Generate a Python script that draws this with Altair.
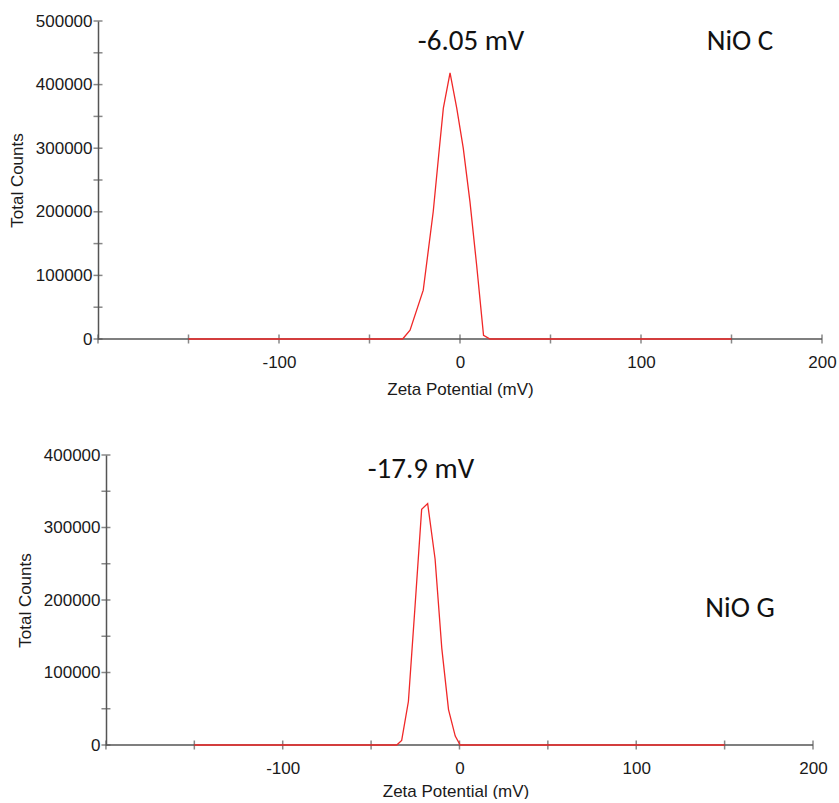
import altair as alt
import pandas as pd

# ---- data ----
c_x = [-150, -31.7, -27.6, -20.3, -14.8, -11.4, -9.2, -5.5, -1.8, 1.8, 5.5, 9.2, 13.0, 16.6, 150]
c_y = [0, 0, 13700, 76800, 200000, 300000, 363000, 418500, 363000, 300000, 216000, 116000, 5800, 0, 0]

g_x = [-150, -35.5, -32.7, -28.9, -25.1, -21.4, -18.0, -13.8, -10.0, -6.2, -2.4, 0.4, 150]
g_y = [0, 0, 6400, 60000, 192700, 325000, 333000, 256600, 133300, 48900, 12300, 0, 0]

c_ann_text = ["-6.05 mV", "NiO C"]
c_ann_x = [6.1, 154.7]
c_ann_y = [468500, 468500]

g_ann_text = ["-17.9 mV", "NiO G"]
g_ann_x = [-21.8, 158.7]
g_ann_y = [381000, 189000]

x_ticks = [-200, -150, -100, -50, 0, 50, 100, 150, 200]
c_y_ticks = [0, 50000, 100000, 150000, 200000, 250000, 300000, 350000, 400000, 450000, 500000]
g_y_ticks = [0, 50000, 100000, 150000, 200000, 250000, 300000, 350000, 400000]
x_span = [-200, 200]

AX_FONT = "Liberation Sans, Arial"
ANN_FONT = "Carlito, Open Sans, Noto Sans"
AX_COLOR = "#555555"
LINE_COLOR = "#f02828"

label_expr_x = "(datum.value % 100 == 0 && datum.value > -200) ? ('' + datum.value) : ''"
label_expr_y = "(datum.value % 100000 == 0) ? ('' + datum.value) : ''"


def panel(xs, ys, ann_text, ann_x, ann_y, y_ticks, y_max, width, height, x_min, y_offset, t_pad):
    df = pd.DataFrame({"x": xs, "y": ys})
    ann = pd.DataFrame({"t": ann_text, "x": ann_x, "y": ann_y})
    rule_df = pd.DataFrame({"x": [x_span[0]], "x2": [x_span[1]], "y": [0]})
    xt_df = pd.DataFrame({"x": x_ticks, "y": [0] * len(x_ticks)})
    yt_df = pd.DataFrame({"x": [x_span[0]] * len(y_ticks), "y": y_ticks})

    xscale = alt.Scale(domain=[x_min, 200], nice=False, zero=False)
    yscale = alt.Scale(domain=[0, y_max], nice=False)

    x_axis = alt.Axis(
        values=x_ticks, labelExpr=label_expr_x, title="Zeta Potential (mV)",
        grid=False, domain=False, ticks=False,
        labelFont=AX_FONT, labelFontSize=17, labelColor="#1a1a1a", labelPadding=15,
        titleFont=AX_FONT, titleFontSize=17, titleFontWeight="normal", titleColor="#1a1a1a",
        titlePadding=t_pad, labelFlush=False,
    )
    y_axis = alt.Axis(
        values=y_ticks, labelExpr=label_expr_y, title="Total Counts",
        grid=False, domainColor=AX_COLOR, domainWidth=1.5, ticks=False, offset=y_offset,
        labelFont=AX_FONT, labelFontSize=17, labelColor="#1a1a1a", labelPadding=6,
        titleFont=AX_FONT, titleFontSize=17, titleFontWeight="normal", titleColor="#1a1a1a",
        titlePadding=9, labelFlush=False,
    )

    base_rule = alt.Chart(rule_df).mark_rule(color=AX_COLOR, strokeWidth=1.5).encode(
        x=alt.X("x:Q", scale=xscale, axis=x_axis),
        x2="x2:Q",
        y=alt.Y("y:Q", scale=yscale, axis=y_axis),
    )
    xt = alt.Chart(xt_df).mark_tick(orient="vertical", size=9, thickness=1.5, color=AX_COLOR).encode(
        x=alt.X("x:Q", scale=xscale),
        y=alt.Y("y:Q", scale=yscale),
    )
    yt = alt.Chart(yt_df).mark_tick(orient="horizontal", size=9, thickness=1.5, color=AX_COLOR).encode(
        x=alt.X("x:Q", scale=xscale),
        y=alt.Y("y:Q", scale=yscale),
    )
    line = alt.Chart(df).mark_line(color=LINE_COLOR, strokeWidth=1.3).encode(
        x=alt.X("x:Q", scale=xscale),
        y=alt.Y("y:Q", scale=yscale),
    )
    text = alt.Chart(ann).mark_text(font=ANN_FONT, fontSize=29, color="#111111").encode(
        x=alt.X("x:Q", scale=xscale),
        y=alt.Y("y:Q", scale=yscale),
        text="t:N",
    )
    return alt.layer(base_rule, xt, yt, line, text).properties(width=width, height=height)


top = panel(c_x, c_y, c_ann_text, c_ann_x, c_ann_y, c_y_ticks, 500000, 724, 318, -200, 0, 11)
bottom = panel(g_x, g_y, g_ann_text, g_ann_x, g_ann_y, g_y_ticks, 400000, 715, 290, -204.5, -8, 7)

chart = alt.vconcat(top, bottom, spacing=49).properties(
    padding={"left": 8, "top": 12, "right": 0, "bottom": 0},
    background="white",
).configure_view(stroke=None)

chart.save("out.html", embed_options={"renderer": "svg", "actions": False})
